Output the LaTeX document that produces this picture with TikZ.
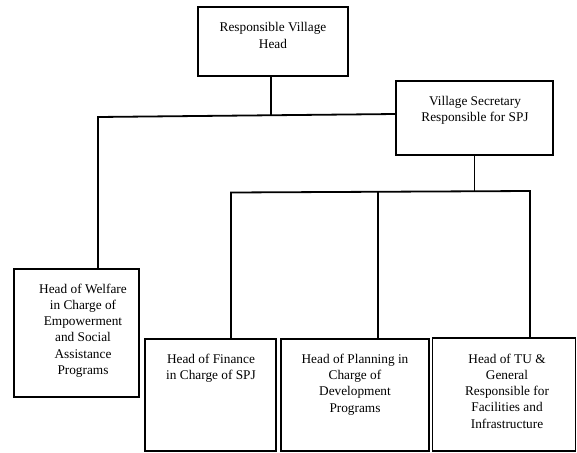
\documentclass[tikz,border=0pt]{standalone}
\usepackage{fontspec}
\setmainfont{Liberation Serif}
\begin{document}
\begin{tikzpicture}[x=1pt,y=-1pt,
  box/.style={draw=black,line width=1.8pt,rectangle,inner sep=0pt},
  txt/.style={align=center,inner sep=0pt,font=\rmfamily\fontsize{13.3}{16.2}\selectfont},
  conn/.style={draw=black,line width=1.8pt}]
\useasboundingbox (0,0) rectangle (577,452);
% boxes
\node[box,minimum width=150pt,minimum height=69pt] (top) at (273,41.5) {};
\node[box,minimum width=157pt,minimum height=74pt] (sec) at (474.5,118) {};
\node[box,minimum width=125pt,minimum height=128pt] (welfare) at (76.5,333) {};
\node[box,minimum width=131pt,minimum height=112pt] (finance) at (210.5,395) {};
\node[box,minimum width=148pt,minimum height=112pt] (planning) at (355,395) {};
\node[box,minimum width=143pt,minimum height=113pt] (tu) at (504,394.5) {};
% texts
\node[txt] (ttop) at (273,35.5) {Responsible Village\\Head};
\node[txt] (tsec) at (475,110) {Village Secretary\\Responsible for SPJ};
\node[txt] (twel) at (83,330.5) {Head of Welfare\\in Charge of\\Empowerment\\and Social\\Assistance\\Programs};
\node[txt] (tfin) at (211,368) {Head of Finance\\in Charge of SPJ};
\node[txt] (tpla) at (355,384.5) {Head of Planning in\\Charge of\\Development\\Programs};
\node[txt] (ttu) at (507,391) {Head of TU \&\\General\\Responsible for\\Facilities and\\Infrastructure};
% connectors
\coordinate (tj) at (271,115.5);
\coordinate (wc) at (98,117);
\coordinate (sj) at (396,114);
\draw[conn] (top.south -| tj) -- (tj);
\draw[conn] (welfare.north -| wc) -- (wc) -- (sj);
\coordinate (hL) at (231,192.5);
\coordinate (hR) at (530,191);
\coordinate (pj) at (378,192);
\draw[conn] (sec.south) -- (sec.south |- pj);
\draw[conn] (finance.north -| hL) -- (hL) -- (hR) -- (tu.north -| hR);
\draw[conn] (planning.north -| pj) -- (pj);
\end{tikzpicture}
\end{document}
